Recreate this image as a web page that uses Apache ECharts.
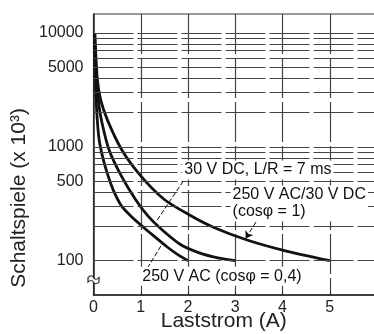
<!DOCTYPE html>
<html>
<head>
<meta charset="utf-8">
<script src="https://cdn.jsdelivr.net/npm/echarts@6/dist/echarts.min.js"></script>
<style>
  html, body { margin: 0; padding: 0; background: #fff; }
  #chart { width: 374px; height: 334px; }
</style>
</head>
<body>
<div id="chart"></div>
<script>
// Schaltspiele (x 10^3) over Laststrom (A)
const xTicks = [0, 1, 2, 3, 4, 5];
const yTicks = [100, 500, 1000, 5000, 10000];
const gridValues = [100, 200, 300, 400, 500, 600, 700, 800, 900,
  1000, 2000, 3000, 4000, 5000, 6000, 7000, 8000, 9000, 10000];

const ac04 = [[0.02, 10000], [0.04, 4000], [0.07, 2000], [0.12, 1150], [0.22, 740],
  [0.37, 470], [0.47, 375], [0.6, 300], [0.8, 245], [1.05, 198], [1.3, 162],
  [1.56, 132], [1.8, 112], [2, 100]];
const dc7ms = [[0.02, 10000], [0.06, 4000], [0.1, 2600], [0.17, 1700], [0.33, 940],
  [0.6, 545], [0.9, 340], [1.16, 245], [1.42, 192], [1.84, 139], [2.27, 116],
  [2.63, 106], [3, 100]];
const acdc1 = [[0.03, 10000], [0.08, 4000], [0.15, 2600], [0.3, 1700], [0.6, 940],
  [1.0, 557], [1.5, 345], [2.05, 250], [2.55, 196], [3.25, 152], [4, 124], [5, 100]];

// label anchors and leader lines, in data units
const labels = [
  { name: '30 V DC, L/R = 7 ms', coord: [1.88, 625] },
  { name: '250 V AC/30 V DC\n(cosφ = 1)', coord: [2.9, 318] },
  { name: '250 V AC (cosφ = 0,4)', coord: [0.99, 73] }
];
const leaders = [
  [[1.9, 501], [1.35, 228], false],
  [[1.14, 86], [1.46, 142], false],
  [[3.44, 219], [3.22, 157], true]
];
const breakAt = [0, 68];

const font = '"Liberation Sans", Arial, sans-serif';
const chart = echarts.init(document.getElementById('chart'));

const curve = (data) => ({
  type: 'line',
  data: data,
  smooth: 0.3,
  showSymbol: false,
  symbol: 'none',
  z: 4,
  lineStyle: { color: '#111', width: 2.8 }
});

const option = {
  animation: false,
  textStyle: { fontFamily: font },
  grid: {
    left: 93.5, right: -3, top: 14, bottom: 39, outerBoundsMode: 'none',
    show: true, borderColor: '#333', borderWidth: 1
  },
  xAxis: {
    type: 'value', min: 0, max: 6, interval: 1,
    axisLine: { lineStyle: { color: '#222', width: 1.5 } },
    axisTick: { inside: true, length: 3, customValues: xTicks, lineStyle: { color: '#222' } },
    axisLabel: { customValues: xTicks, color: '#222', fontSize: 16, margin: 5 },
    splitLine: { show: true, lineStyle: { color: '#444', width: 1.2, type: [40, 4] } },
    name: 'Laststrom (A)', nameLocation: 'middle', nameGap: 16, nameMoveOverlap: false,
    nameTextStyle: { fontSize: 21, color: '#222', padding: [0, 23, 0, 0] }
  },
  yAxis: {
    type: 'log', logBase: 10, min: 50, max: 14700,
    axisLine: { show: true, lineStyle: { color: '#222', width: 1.5 } },
    axisTick: { show: false },
    axisLabel: { customValues: yTicks, color: '#222', fontSize: 16, margin: 10, formatter: v => String(v) },
    splitLine: { show: false },
    name: 'Schaltspiele (x 10³)', nameLocation: 'middle', nameGap: 64, nameMoveOverlap: false,
    nameTextStyle: { fontSize: 21, color: '#222', padding: [0, 87, 0, 0] }
  },
  series: [
    {
      type: 'line', data: [], z: 1, silent: true,
      markLine: {
        silent: true, symbol: 'none', animation: false,
        label: { show: false },
        lineStyle: { color: '#444', width: 1.2, type: [40, 4] },
        data: gridValues.map(v => ({ yAxis: v }))
      }
    },
    {
      type: 'line', data: [], z: 2, silent: true,
      markPoint: {
        silent: true, animation: false,
        data: labels.map(l => ({
          coord: l.coord, symbolSize: 0.1,
          label: {
            show: true, position: 'right', distance: 0, formatter: l.name,
            color: '#111', fontSize: 16, lineHeight: 17, align: 'left',
            backgroundColor: '#fff', padding: [1, 2]
          }
        }))
      }
    },
    curve(ac04),
    curve(dc7ms),
    curve(acdc1),
    {
      type: 'line', data: [], z: 5, silent: true,
      markLine: {
        silent: true, animation: false,
        label: { show: false },
        symbolSize: 7,
        lineStyle: { color: '#111', width: 1, type: [5, 2] },
        data: leaders.map(l => [
          { coord: l[0], symbol: 'none' },
          { coord: l[1], symbol: l[2] ? 'arrow' : 'none' }
        ])
      },
      markPoint: {
        silent: true, animation: false,
        data: [{
          coord: breakAt, symbol: 'path://M0,3 C2,0 4,0 5,3 C6,6 8,6 10,3 L10,9 C8,12 6,12 5,9 C4,6 2,6 0,9 Z',
          symbolSize: [11, 8], label: { show: false },
          itemStyle: { color: '#fff', borderColor: '#222', borderWidth: 1 }
        }]
      }
    }
  ]
};

chart.setOption(option);
</script>
</body>
</html>
